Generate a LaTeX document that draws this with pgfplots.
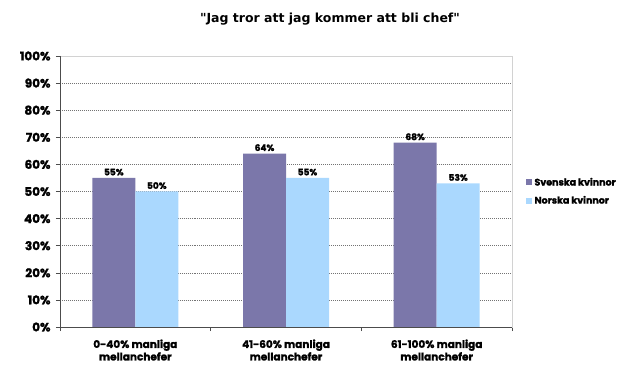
\documentclass[border=0pt]{standalone}
\usepackage{fontspec}
\setmainfont{Poppins}[BoldFeatures={FakeBold=1.6}]
\newfontfamily\titlefont{DejaVu Sans}
\usepackage{pgfplots}
\pgfplotsset{compat=1.18}
\definecolor{sv}{HTML}{7B77AA}
\definecolor{no}{HTML}{AAD8FE}
\begin{document}
\begin{tikzpicture}
\path[use as bounding box] (0,0) rectangle (632bp,387bp);
\node[font=\titlefont\bfseries\fontsize{12.5bp}{14bp}\selectfont] at (330bp,368bp) {"Jag tror att jag kommer att bli chef"};
\begin{axis}[
  at={(60bp,60bp)}, anchor=south west,
  scale only axis, width=452bp, height=271bp,
  xmin=-0.5, xmax=2.5, ymin=0, ymax=100,
  ytick={0,10,...,100},
  yticklabel={\pgfmathprintnumber{\tick}\%},
  /pgf/number format/assume math mode=true,
  xtick={0,1,2},
  xticklabels={{0-40\% manliga\\mellanchefer},{41-60\% manliga\\mellanchefer},{61-100\% manliga\\mellanchefer}},
  xticklabel style={align=center, font=\bfseries\fontsize{10.5bp}{12.5bp}\selectfont, yshift=-5bp},
  yticklabel style={font=\bfseries\fontsize{12bp}{13bp}\selectfont, xshift=-2bp},
  major x tick style={draw=none},
  minor xtick={-0.5,0.5,1.5,2.5},
  minor tick length=4bp,
  major tick length=4bp,
  tick align=outside,
  tick style={gray!60!black, line width=0.6pt},
  xtick pos=bottom, ytick pos=left,
  ymajorgrids,
  grid style={gray!90!black, dash pattern=on 1pt off 1pt, line width=0.6pt},
  axis line style={gray!35, line width=0.6pt},
  ybar=0pt, bar width=43bp,
  nodes near coords={\pgfmathprintnumber{\pgfplotspointmeta}\%},
  nodes near coords style={font=\bfseries\fontsize{9bp}{10bp}\selectfont, black, yshift=-1bp},
  legend style={draw=none, fill=none, at={(1.025,0.5)}, anchor=west,
    font=\bfseries\fontsize{9.5bp}{10.5bp}\selectfont, row sep=5bp},
  legend cell align=left,
  legend image code/.code={\fill[#1] (0bp,-3bp) rectangle (6bp,3bp);},
  after end axis/.code={\draw[gray!60!black, line width=0.7pt] (rel axis cs:0,1) -- (rel axis cs:0,0) -- (rel axis cs:1,0);},
]
\addplot[fill=sv, draw=none] coordinates {(0,55) (1,64) (2,68)};
\addplot[fill=no, draw=none] coordinates {(0,50) (1,55) (2,53)};
\legend{Svenska kvinnor, Norska kvinnor}
\end{axis}
\end{tikzpicture}
\end{document}
